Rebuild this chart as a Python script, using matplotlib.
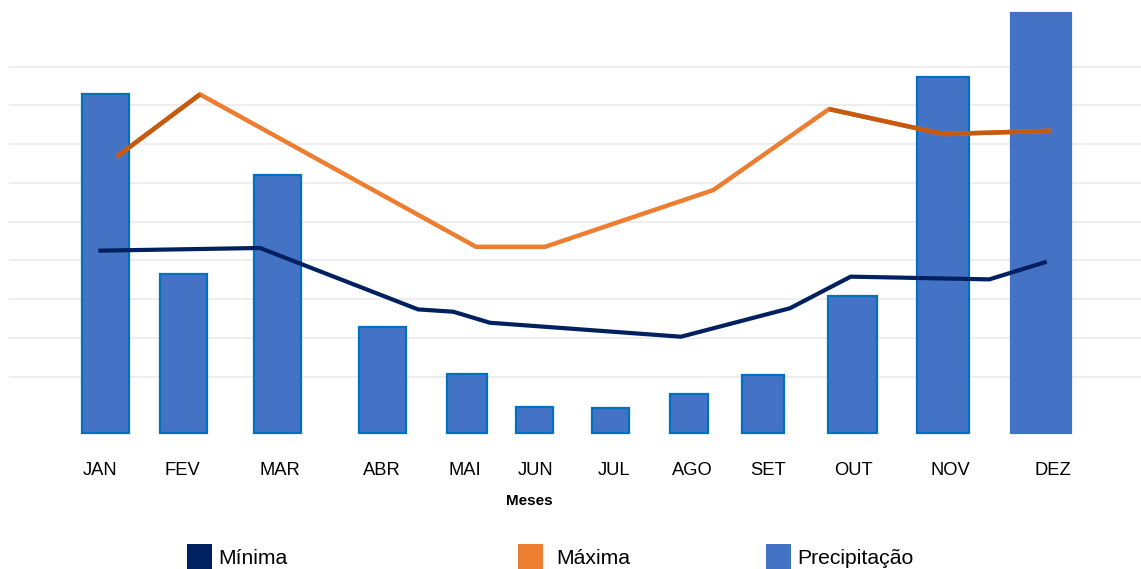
import matplotlib
matplotlib.use("Agg")
import matplotlib.pyplot as plt
from matplotlib.patches import Rectangle

plt.rcParams['font.family'] = ['Liberation Sans', 'DejaVu Sans']

# ---------------- data ----------------
months = ["JAN", "FEV", "MAR", "ABR", "MAI", "JUN", "JUL", "AGO", "SET", "OUT", "NOV", "DEZ"]
precip_mm = [218.5, 102.6, 166.3, 68.6, 38.1, 17.0, 16.3, 25.2, 37.2, 88.6, 229.9, 271.2]

# temperature series (°C) - vertices of the drawn lines
maxima_c = [21.35, 24.57, 16.70, 16.70, 19.63, 23.81, 22.52, 22.69]
minima_c = [16.50, 16.64, 13.47, 13.35, 12.78, 12.06, 13.53, 15.16, 15.02, 15.93]

# ---------------- layout (horizontal positions, px-like units) ----------------
bar_centers = [105.0, 183.3, 277.5, 382.5, 466.7, 534.3, 610.2, 688.8, 762.7, 852.5, 942.7, 1040.8]
bar_widths = [47.0, 46.5, 46.8, 46.8, 39.8, 36.5, 36.8, 37.5, 41.8, 48.9, 51.8, 60.3]
label_x = [99.8, 182.0, 280.0, 382.0, 465.0, 536.0, 614.0, 692.0, 768.0, 853.0, 950.0, 1053.0]
maxima_x = [116.7, 200.0, 476.0, 545.0, 713.3, 829.0, 943.3, 1051.7]
minima_x = [98.3, 260.0, 418.0, 453.3, 490.0, 681.0, 790.0, 850.7, 989.3, 1046.7]
grid_temps = [10, 12, 14, 16, 18, 20, 22, 24, 26]

# ---------------- style ----------------
C_BAR = "#4472C4"
C_BAR_EDGE = "#0070C0"
C_MAX = "#ED7D31"
C_MAX_DARK = "#C55A11"
C_MIN = "#002060"
C_GRID = "#EDEDED"

W, H = 1141, 569
fig = plt.figure(figsize=(W / 100, H / 100), dpi=100)

ax_p = fig.add_axes([0, 0, 1, 1])   # precipitation (bottom)
ax_t = ax_p.twinx()                 # temperatures (top)
for a in (ax_p, ax_t):
    a.set_axis_off()
ax_p.set_xlim(0, W)
ax_p.set_ylim(-87.74, 279.35)
ax_t.set_ylim(0.07, 29.44)

# gridlines (temperature units) drawn below the bars
ax_p.hlines(grid_temps, 9, W, colors=C_GRID, linewidth=1.3,
            transform=ax_t.transData, zorder=0)

# bars
edges = [C_BAR_EDGE] * (len(months) - 1) + [C_BAR]
ax_p.bar(bar_centers, precip_mm, width=bar_widths, color=C_BAR,
         edgecolor=edges, linewidth=1.6, zorder=2)

# Máxima line with darker segments
ax_t.plot(maxima_x, maxima_c, color=C_MAX, linewidth=3.2, solid_capstyle='butt',
          solid_joinstyle='miter', zorder=3)
for i0, i1 in [(0, 1), (5, 7)]:
    ax_t.plot(maxima_x[i0:i1 + 1], maxima_c[i0:i1 + 1], color=C_MAX_DARK,
              linewidth=3.2, solid_capstyle='butt', solid_joinstyle='miter', zorder=4)

# Mínima line
ax_t.plot(minima_x, minima_c, color=C_MIN, linewidth=3.0, solid_capstyle='butt',
          solid_joinstyle='miter', zorder=4)

# month labels & axis title
def fy(px):
    return 1 - px / H

for x, m in zip(label_x, months):
    fig.text(x / W, fy(475), m, ha='center', va='baseline', fontsize=13.2, color='#000000')
fig.text(529 / W, fy(505), "Meses", ha='center', va='baseline', fontsize=11,
         fontweight='bold', color='#000000')

# legend
legend_items = [("Mínima", C_MIN, 187, 218), ("Máxima", C_MAX, 518, 556),
                ("Precipitação", C_BAR, 766, 797)]
for name, col, sx, tx in legend_items:
    fig.patches.append(Rectangle((sx / W, 0), 25 / W, 25 / H, transform=fig.transFigure,
                                 facecolor=col, edgecolor='none'))
    fig.text(tx / W, fy(563.5), name, ha='left', va='baseline', fontsize=15.2, color='#000000')

fig.savefig("out.png", dpi=100)
